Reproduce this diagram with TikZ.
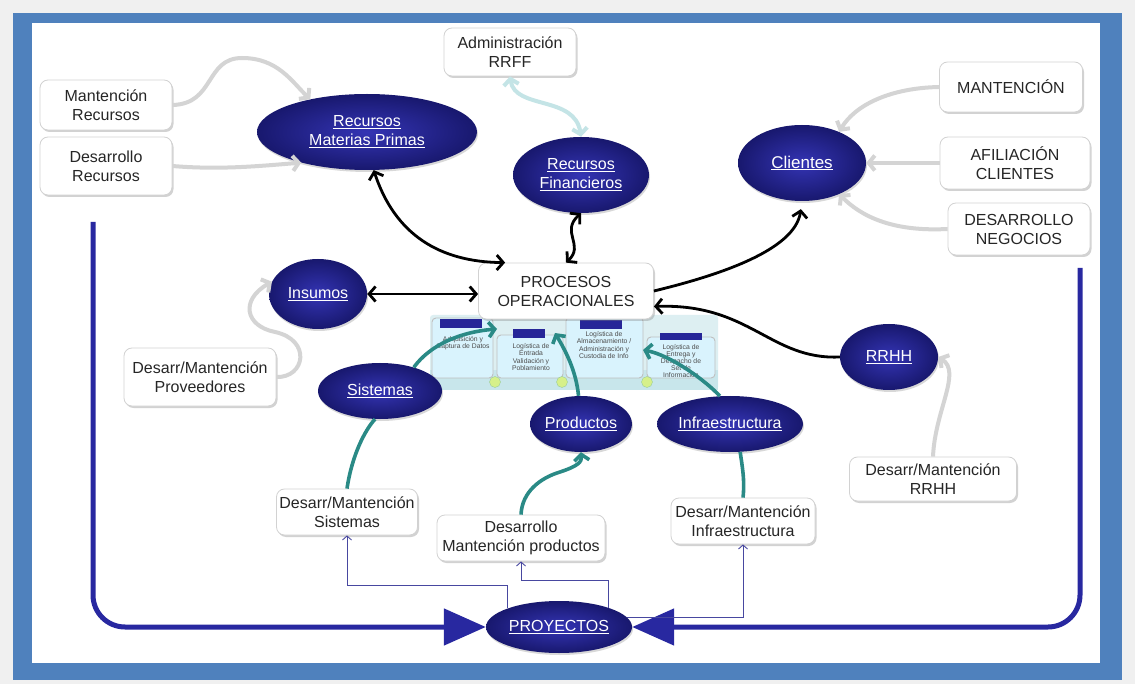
\documentclass[tikz,border=0pt]{standalone}
\usepackage{fontspec}
\setmainfont{Liberation Sans}
\usetikzlibrary{shapes.geometric,arrows.meta,shadows}
\definecolor{frameblue}{HTML}{4F81BD}
\definecolor{bggray}{HTML}{F0F0F0}
\definecolor{navyin}{HTML}{3434B4}
\definecolor{navyout}{HTML}{18186E}
\definecolor{arrgray}{HTML}{D4D4D4}
\definecolor{tealc}{HTML}{2A8A86}
\definecolor{bigblue}{HTML}{2828A0}
\definecolor{thinp}{HTML}{4848A0}
\definecolor{paleteal}{HTML}{C4E4E6}
\definecolor{panelbg}{HTML}{DDEFF2}
\definecolor{panelband}{HTML}{C8E6EB}
\definecolor{barblue}{HTML}{262698}
\definecolor{dotgreen}{HTML}{D6F08A}
\newcommand\dfont{\fontsize{16}{19}\selectfont}
\newcommand\tinyfont{\fontsize{6.8}{7.2}\selectfont}
\tikzset{
  box/.style={rectangle, rounded corners=8pt, fill=white, draw=gray!35, line width=0.8pt,
    align=center, font=\dfont, inner sep=2pt, text=black!85,
    drop shadow={opacity=0.35, shadow xshift=1.5pt, shadow yshift=-2pt}},
  ell/.style={ellipse, inner sep=0pt, inner color=navyin, outer color=navyout,
    text=white, font=\dfont, align=center,
    drop shadow={opacity=0.3, shadow xshift=1pt, shadow yshift=-2pt}},
  gry/.style={draw=arrgray, line width=4pt, >={Straight Barb[length=6pt,width=15pt]}},
  pal/.style={draw=paleteal, line width=4pt, >={Straight Barb[length=6pt,width=15pt]}},
  blk/.style={draw=black, line width=2.8pt, >={Straight Barb[length=6.5pt,width=15pt]}},
  tl/.style={draw=tealc, line width=3.6pt, >={Straight Barb[length=6pt,width=15pt]}},
  big/.style={draw=bigblue, line width=5pt, rounded corners=32pt, >={Triangle[length=42pt,width=36pt]}},
  thn/.style={draw=thinp, line width=0.9pt, >={Straight Barb[length=4pt,width=9pt]}},
  subp/.style={draw=gray!50, fill=white!85!cyan, rounded corners=4pt, line width=0.9pt},
  ptxt/.style={font=\tinyfont, align=center, text=black!70},
}
\begin{document}
\begin{tikzpicture}[x=1pt,y=-1pt]
\useasboundingbox (0,0) rectangle (1135,684);
\fill[bggray] (0,0) rectangle (1135,684);
\fill[frameblue] (13,13) rectangle (1122,680);
\fill[white] (32,23) rectangle (1100,663);

% central panel
\fill[panelbg, rounded corners=3pt] (430,315) rectangle (718,390);
\fill[panelband] (430,370) rectangle (718,390);
\draw[subp] (432,318) rectangle (493,378);
\draw[subp] (497,335) rectangle (563,378);
\draw[subp] (566,317) rectangle (643,378);
\draw[subp] (647,337) rectangle (715,378);
\fill[barblue] (440,319) rectangle (482,328);
\fill[barblue] (513,329) rectangle (545,338);
\fill[barblue] (580,320) rectangle (622,329);
\fill[barblue] (660,333) rectangle (702,340);
\node[ptxt] (pt1) at (463,343) {Adquisición y\\Captura de Datos};
\node[ptxt] (pt2) at (531,357) {Logística de\\Entrada\\Validación y\\Poblamiento};
\node[ptxt] (pt3) at (604,345) {Logística de\\Almacenamiento /\\Administración y\\Custodia de Info};
\node[ptxt] (pt4) at (681,361) {Logística de\\Entrega y\\Despacho de\\Set de\\Información};
\filldraw[fill=dotgreen, draw=green!50!black!40] (495,382) circle (5.5);
\filldraw[fill=dotgreen, draw=green!50!black!40] (562,382) circle (5.5);
\filldraw[fill=dotgreen, draw=green!50!black!40] (647,382) circle (5.5);

% boxes
\node[box, minimum width=132pt, minimum height=50pt] (mr) at (106,105) {Mantención\\Recursos};
\node[box, minimum width=132pt, minimum height=58pt] (dr) at (106,166) {Desarrollo\\Recursos};
\node[box, minimum width=132pt, minimum height=48pt] (adm) at (510,52) {Administración\\RRFF};
\node[box, minimum width=143pt, minimum height=50pt] (mant) at (1011,87) {MANTENCIÓN};
\node[box, minimum width=150pt, minimum height=52pt] (afil) at (1015,163) {AFILIACIÓN\\CLIENTES};
\node[box, minimum width=142pt, minimum height=52pt] (desneg) at (1019,229) {DESARROLLO\\NEGOCIOS};
\node[box, minimum width=175pt, minimum height=56pt] (proc) at (566,291) {PROCESOS\\OPERACIONALES};
\node[box, minimum width=152pt, minimum height=58pt] (prov) at (200,377) {Desarr/Mantención\\Proveedores};
\node[box, minimum width=167pt, minimum height=44pt] (rrhhb) at (933,479) {Desarr/Mantención\\RRHH};
\node[box, minimum width=141pt, minimum height=46pt] (sisb) at (347,512) {Desarr/Mantención\\Sistemas};
\node[box, minimum width=168pt, minimum height=46pt] (prodb) at (521,538) {Desarrollo\\Mantención productos};
\node[box, minimum width=144pt, minimum height=46pt] (infb) at (743,521) {Desarr/Mantención\\Infraestructura};

% ellipses
\node[ell, minimum width=220pt, minimum height=76pt] (rmp) at (367,132) {\underline{Recursos}\\\underline{Materias Primas}};
\node[ell, minimum width=136pt, minimum height=76pt] (rf) at (581,175) {\underline{Recursos}\\\underline{Financieros}};
\node[ell, minimum width=128pt, minimum height=76pt, font=\fontsize{17}{20}\selectfont] (cli) at (802,163) {\underline{Clientes}};
\node[ell, minimum width=98pt, minimum height=70pt] (ins) at (318,294) {\underline{Insumos}};
\node[ell, minimum width=124pt, minimum height=56pt] (sis) at (380,391) {\underline{Sistemas}};
\node[ell, minimum width=100pt, minimum height=56pt] (prd) at (581,424) {\underline{Productos}};
\node[ell, minimum width=136pt, minimum height=56pt] (inf) at (730,424) {\underline{Infraestructura}};
\node[ell, minimum width=98pt, minimum height=66pt] (rrhh) at (889,357) {\underline{RRHH}};
\node[ell, minimum width=146pt, minimum height=52pt] (proy) at (559,627) {\underline{PROYECTOS}};

% free ends
\coordinate (t1) at (497,329);
\coordinate (t2) at (555,333);
\coordinate (t3) at (643,350);
\coordinate (lt) at (93,222);
\coordinate (rt) at (1080,268);

% gray connectors
\draw[gry,->] (mr.east) .. controls (215,104) and (205,58) .. (242,58) .. controls (278,58) and (292,82) .. (rmp.150);
\draw[gry,->] (dr.east) .. controls (220,170) and (260,166) .. (rmp.205);
\draw[gry,->] (prov.east) .. controls (305,378) and (312,340) .. (275,332) .. controls (245,326) and (240,300) .. (ins.165);
\draw[gry,->] (mant.west) .. controls (890,88) and (855,105) .. (cli.40);
\draw[gry,->] (afil.west) -- (cli.east);
\draw[gry,->] (desneg.west) .. controls (890,232) and (860,215) .. (cli.-40);
\draw[gry,->] (rrhhb.north) .. controls (935,410) and (962,372) .. (rrhh.east);
\draw[pal,<->] (adm.south) .. controls (515,110) and (575,95) .. (rf.north);

% black connectors
\draw[blk,<->] (rmp.-80) .. controls (395,235) and (440,262) .. (proc.155);
\draw[blk,<->] (rf.south) .. controls (560,232) and (585,245) .. (proc.north);
\draw[blk,<->] (ins.east) -- (proc.west |- ins.east);
\draw[blk,->, shorten >=8pt] (proc.east) .. controls (720,275) and (795,250) .. (cli.south);
\draw[blk,->] (rrhh.west) .. controls (770,360) and (750,303) .. (proc.-10);

% teal connectors
\draw[tl] (sisb.north) .. controls (352,455) and (365,430) .. (sis.-100);
\draw[tl,->] (sis.35) .. controls (430,345) and (460,332) .. (t1);
\draw[tl,->] (prodb.north) .. controls (522,492) and (540,478) .. (560,472) .. controls (578,466) and (582,462) .. (prd.-90);
\draw[tl,->] (prd.95) .. controls (576,370) and (565,350) .. (t2);
\draw[tl] (infb.north) .. controls (745,480) and (742,465) .. (inf.-70);
\draw[tl,->] (inf.110) .. controls (705,380) and (670,355) .. (t3);

% big blue connectors
\draw[big,->] (lt) |- (proy.west);
\draw[big,->] (rt) |- (proy.east);

% thin connectors
\draw[thn,->] (proy.160) -- (proy.160 |- 0,585) -| (sisb.south);
\draw[thn,->] (proy.21) -- (proy.21 |- 0,580) -| (prodb.south);
\draw[thn,->] (proy.8) -| (infb.south);
\end{tikzpicture}
\end{document}
